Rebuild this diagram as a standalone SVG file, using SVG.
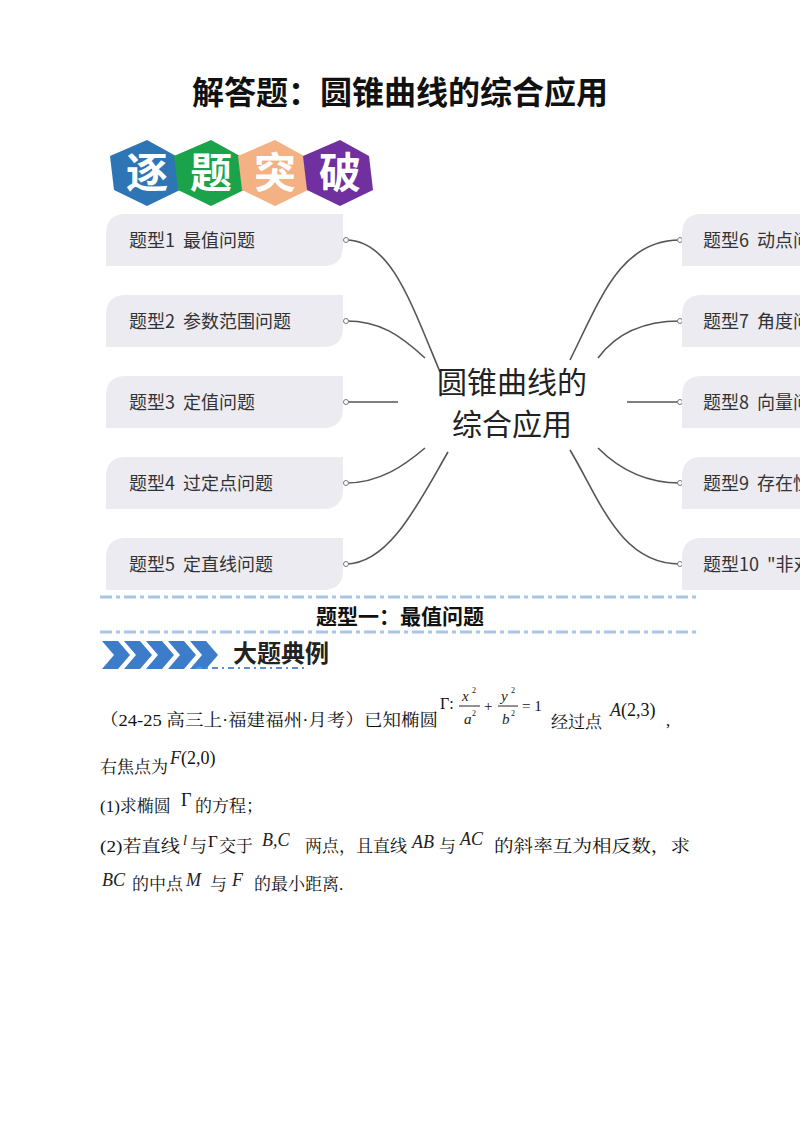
<svg xmlns="http://www.w3.org/2000/svg" width="800" height="1134" viewBox="0 0 800 1134">
<style>
.cjk{font-family:"Noto Sans CJK SC","Noto Sans",sans-serif}
.ser{font-family:"Liberation Serif","Noto Serif CJK SC","Noto Sans CJK SC",serif}
.box{fill:#ecebf2}
.bt{font-size:18px;fill:#333;white-space:pre}
.con{fill:none;stroke:#555;stroke-width:1.6}
.dot{fill:#fff;stroke:#777;stroke-width:1}
.dash{stroke:#a9c4e4;stroke-width:3;stroke-dasharray:12 4 4 4}
.q{font-size:17px;fill:#111}
.m{font-family:"Liberation Serif",serif;font-style:italic;fill:#222}
</style>
<rect width="800" height="1134" fill="#fff"/>
<text x="400" y="104" text-anchor="middle" class="cjk" font-size="32" font-weight="bold" fill="#111">解答题：圆锥曲线的综合应用</text>
<g id="badge">
<polygon points="147,140 176,156 180,190 147,206 114,190 110,156" fill="#2e75b6"/>
<polygon points="211,140 240,156 244,190 211,206 178,190 174,156" fill="#1aa34a"/>
<polygon points="275,140 304,156 308,190 275,206 242,190 238,156" fill="#f4b183"/>
<polygon points="340,140 369,156 373,190 340,206 307,190 303,156" fill="#7030a0"/>
<g class="cjk" font-size="42" font-weight="bold" fill="#fff" text-anchor="middle">
<text x="147" y="188">逐</text><text x="211" y="188">题</text><text x="275" y="188">突</text><text x="340" y="188">破</text></g>
</g>
<g id="connectors">
<path class="con" d="M346,240 C390,240 410,300 440,372"/>
<path class="con" d="M346,321 C380,321 400,335 425,358"/>
<path class="con" d="M346,402 L398,402"/>
<path class="con" d="M346,483 C380,483 405,465 425,448"/>
<path class="con" d="M346,564 C390,564 420,500 448,452"/>
<path class="con" d="M680,240 C620,240 600,300 570,360"/>
<path class="con" d="M680,321 C640,321 615,335 598,358"/>
<path class="con" d="M680,402 L627,402"/>
<path class="con" d="M680,483 C640,483 615,465 598,448"/>
<path class="con" d="M680,564 C620,564 600,500 570,450"/>
<g class="dot"><circle cx="346" cy="240" r="2.5"/><circle cx="346" cy="321" r="2.5"/><circle cx="346" cy="402" r="2.5"/><circle cx="346" cy="483" r="2.5"/><circle cx="346" cy="564" r="2.5"/>
<circle cx="680" cy="240" r="2.5"/><circle cx="680" cy="321" r="2.5"/><circle cx="680" cy="402" r="2.5"/><circle cx="680" cy="483" r="2.5"/><circle cx="680" cy="564" r="2.5"/></g>
</g>
<g id="center" class="cjk" font-size="30" fill="#222" text-anchor="middle"><text x="512" y="393">圆锥曲线的</text><text x="512" y="435">综合应用</text></g>
<g id="n1"><path class="box" d="M126,214 H343 V246 Q343,266 323,266 H106 V234 Q106,214 126,214Z"/><text class="cjk bt" x="129" y="247">题型1  最值问题</text></g>
<g id="n2"><path class="box" d="M126,295 H343 V327 Q343,347 323,347 H106 V315 Q106,295 126,295Z"/><text class="cjk bt" x="129" y="328">题型2  参数范围问题</text></g>
<g id="n3"><path class="box" d="M126,376 H343 V408 Q343,428 323,428 H106 V396 Q106,376 126,376Z"/><text class="cjk bt" x="129" y="409">题型3  定值问题</text></g>
<g id="n4"><path class="box" d="M126,457 H343 V489 Q343,509 323,509 H106 V477 Q106,457 126,457Z"/><text class="cjk bt" x="129" y="490">题型4  过定点问题</text></g>
<g id="n5"><path class="box" d="M126,538 H343 V570 Q343,590 323,590 H106 V558 Q106,538 126,538Z"/><text class="cjk bt" x="129" y="571">题型5  定直线问题</text></g>
<g id="n6"><path class="box" d="M702,214 H820 V266 H682 V234 Q682,214 702,214Z"/><text class="cjk bt" x="703" y="247">题型6  动点问题</text></g>
<g id="n7"><path class="box" d="M702,295 H820 V347 H682 V315 Q682,295 702,295Z"/><text class="cjk bt" x="703" y="328">题型7  角度问题</text></g>
<g id="n8"><path class="box" d="M702,376 H820 V428 H682 V396 Q682,376 702,376Z"/><text class="cjk bt" x="703" y="409">题型8  向量问题</text></g>
<g id="n9"><path class="box" d="M702,457 H820 V509 H682 V477 Q682,457 702,457Z"/><text class="cjk bt" x="703" y="490">题型9  存在性问题</text></g>
<g id="n10"><path class="box" d="M702,538 H820 V590 H682 V558 Q682,538 702,538Z"/><text class="cjk bt" x="703" y="571">题型10  "非对称"问题</text></g>
<line class="dash" x1="100" y1="597" x2="700" y2="597"/>
<text x="400" y="624" text-anchor="middle" class="cjk" font-size="21" font-weight="bold" fill="#111">题型一：最值问题</text>
<line class="dash" x1="100" y1="632" x2="700" y2="632"/>
<g id="banner">
<g fill="#3d7cc9">
<polygon points="102,641 118,641 130,655 118,669 102,669 114,655"/>
<polygon points="124,641 140,641 152,655 140,669 124,669 136,655"/>
<polygon points="146,641 162,641 174,655 162,669 146,669 158,655"/>
<polygon points="168,641 184,641 196,655 184,669 168,669 180,655"/>
<polygon points="190,641 206,641 218,655 206,669 190,669 202,655"/>
</g>
<text x="233" y="662" class="cjk" font-size="24" font-weight="bold" fill="#222">大题典例</text>
<line x1="196" y1="668" x2="308" y2="668" stroke="#5b8fd0" stroke-width="2" stroke-dasharray="6 4 2 4"/>
</g>
<g id="problem" class="ser q">
<text x="100" y="726" textLength="338" lengthAdjust="spacingAndGlyphs">（24-25 高三上·福建福州·月考）已知椭圆</text>
<text x="440" y="709" font-size="16">Γ:</text>
<text x="462" y="701" class="m" font-size="15">x</text><text x="472" y="693" font-size="8">2</text>
<line x1="459" y1="706" x2="480" y2="706" stroke="#222"/>
<text x="464" y="724" class="m" font-size="15">a</text><text x="472" y="716" font-size="8">2</text>
<text x="484" y="711" font-size="15">+</text>
<text x="501" y="701" class="m" font-size="15">y</text><text x="511" y="693" font-size="8">2</text>
<line x1="498" y1="706" x2="518" y2="706" stroke="#222"/>
<text x="502" y="724" class="m" font-size="15">b</text><text x="511" y="716" font-size="8">2</text>
<text x="522" y="711" font-size="15">= 1</text>
<text x="551" y="728">经过点</text>
<text x="610" y="716" font-size="18"><tspan class="m">A</tspan>(2,3)</text>
<text x="666" y="726">,</text>
<text x="100" y="773">右焦点为</text>
<text x="170" y="764" font-size="18"><tspan class="m">F</tspan>(2,0)</text>
<text x="100" y="812">(1)求椭圆</text><text x="181" y="806" font-size="18">Γ</text><text x="195" y="812">的方程；</text>
<text x="100" y="852" textLength="80" lengthAdjust="spacingAndGlyphs">(2)若直线</text><text x="183" y="845" class="m" font-size="14">l</text><text x="190" y="852">与</text><text x="208" y="847" font-size="17">Γ</text><text x="219" y="852">交于</text>
<text x="262" y="846" class="m" font-size="18">B,C</text>
<text x="305" y="852">两点，且直线</text><text x="412" y="848" class="m" font-size="18">AB</text><text x="439" y="852">与</text><text x="460" y="845" class="m" font-size="18">AC</text>
<text x="494" y="852" textLength="196" lengthAdjust="spacingAndGlyphs">的斜率互为相反数，求</text>
<text x="102" y="886" class="m" font-size="18">BC</text><text x="132" y="890">的中点</text><text x="186" y="886" class="m" font-size="18">M</text><text x="210" y="890">与</text><text x="232" y="886" class="m" font-size="18">F</text><text x="254" y="890">的最小距离.</text>
</g>
</svg>
